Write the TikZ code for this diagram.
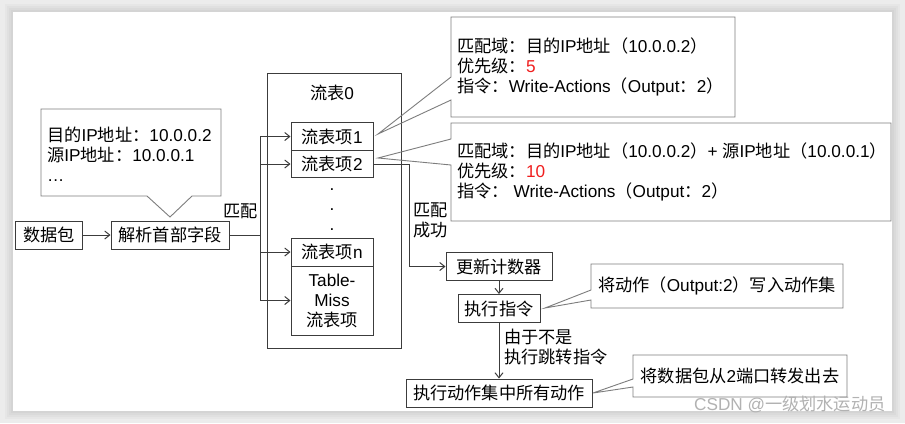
\documentclass[tikz,border=0pt]{standalone}
\usepackage{fontspec}
\setmainfont{Liberation Sans}
\newfontfamily\cjk{Noto Sans CJK SC}
% switch to the CJK face for ideographs and full-width signs
\XeTeXinterchartokenstate=1
\newXeTeXintercharclass\cjkcls
\count255="3000
\loop\ifnum\count255<"3040 \XeTeXcharclass\count255=\cjkcls \advance\count255 by 1 \repeat
\count255="4E00
\loop\ifnum\count255<"A000 \XeTeXcharclass\count255=\cjkcls \advance\count255 by 1 \repeat
\count255="FF00
\loop\ifnum\count255<"FFF0 \XeTeXcharclass\count255=\cjkcls \advance\count255 by 1 \repeat
\XeTeXinterchartoks 0 \cjkcls={\cjk}
\XeTeXinterchartoks 4095 \cjkcls={\cjk}
\XeTeXinterchartoks \cjkcls 0={\rmfamily}
\XeTeXinterchartoks \cjkcls 4095={\rmfamily}
\XeTeXinterchartoks 4095 0={\rmfamily}
\usepackage{tikz}
\usetikzlibrary{arrows.meta,positioning}
\definecolor{frame}{RGB}{60,60,60}
\definecolor{pale}{RGB}{125,125,125}
\definecolor{hot}{RGB}{240,30,30}
\definecolor{paper}{RGB}{236,236,236}
\tikzset{
  >={Straight Barb[length=5bp,width=8bp]},
  box/.style={draw=frame,line width=1bp,minimum width=#1,minimum height=28bp,
    inner sep=0pt,align=center},
  box/.default=82bp,
  tag/.style={align=left,inner sep=0pt},
  flow/.style={->,line width=1bp,draw=frame},
  wire/.style={line width=1bp,draw=frame},
  bubble/.style={draw=pale,line width=0.9bp},
}

\begin{document}
\begin{tikzpicture}[x=1bp,y=-1bp,font=\fontsize{17.2bp}{20bp}\selectfont]
  \useasboundingbox (0,0) rectangle (905,423);
  % card
  \fill[paper] (0,0) rectangle (905,423);
  \foreach \d in {8,6,4,2}
    \fill[black,opacity=0.025] (13-\d,12-\d) rectangle (892+\d,411+\d);
  \fill[white] (13,12) rectangle (892,411);

  % flow table
  \node[draw=frame,line width=1bp,minimum width=134bp,minimum height=275bp] (tbl) at (334,210.5) {};
  \node (tname) at (332,93) {流表0};
  \node[box] (e1) at (332,136.5) {流表项1};
  \node[box,minimum height=26.5bp] (e2) at (332,164) {流表项2};
  \foreach \y [count=\i] in {190,210,230}
    \node[inner sep=0pt] (dot\i) at (332,\y) {.};
  \node[box] (en) at (332,252) {流表项n};
  \node[box,minimum height=69bp] (miss) at (332,300.5) {Table-\\Miss\\流表项};

  % packet path
  \node[box=66bp] (pkt) at (49,235) {数据包};
  \node[box=118bp] (parse) at (170,235) {解析首部字段};
  \draw[flow] (pkt) -- (parse);
  \coordinate (bus) at (260,235);
  \draw[wire] (parse.east) -- (bus);
  \foreach \n in {e1,e2,en,miss}
    \draw[flow] (bus) |- (\n.west);
  \node[tag,anchor=east] (match) at (258,211) {匹配};

  % actions
  \node[box=106bp] (upd) at (499,266.5) {更新计数器};
  \node[box] (exe) at (499,308.5) {执行指令};
  \node[box=186bp] (all) at (499,393) {执行动作集中所有动作};
  \draw[flow] (e2.east) -- ++(36,0) |- (upd.west);
  \node[tag,anchor=west] (ok) at (413,220) {匹配\\成功};
  \draw[flow] (upd) -- (exe);
  \draw[flow] (exe) -- (all);
  \node[tag,anchor=west] (why) at (504,347) {由于不是\\执行跳转指令};

  % callouts
  \draw[bubble] (41,109) -- (221,109) -- (221,196) -- (192,196) -- (170,217) -- (147,196) -- (41,196) -- cycle;
  \node[tag,anchor=west] (hdr) at (47,154) {目的IP地址：10.0.0.2\\源IP地址：10.0.0.1\\…};
  \draw[bubble] (451,17) -- (735,17) -- (735,117) -- (451,117) -- (451,100) -- (378,134) -- (451,77) -- cycle;
  \node[tag,anchor=west] (rule1) at (457,67) {匹配域：目的IP地址（10.0.0.2）\\优先级：\textcolor{hot}{5}\\指令：Write-Actions（Output：2）};
  \draw[bubble] (451,123) -- (891,123) -- (891,221) -- (451,221) -- (451,165) -- (378,158) -- (451,139) -- cycle;
  \node[tag,anchor=west] (rule2) at (457,172) {匹配域：目的IP地址（10.0.0.2）+ 源IP地址（10.0.0.1）\\优先级：\textcolor{hot}{10}\\指令： Write-Actions（Output：2）};
  \draw[bubble] (591,264) -- (843,264) -- (843,308) -- (591,308) -- (591,300) -- (545,308) -- (591,290) -- cycle;
  \node (wset) at (717,286) {将动作（Output:2）写入动作集};
  \draw[bubble] (633,355) -- (847,355) -- (847,397) -- (633,397) -- (633,387) -- (593,393) -- (633,379) -- cycle;
  \node (fwd) at (740,376) {将数据包从2端口转发出去};

  \node[anchor=east,text=black!30] (mark) at (889,404) {CSDN @一级划水运动员};
\end{tikzpicture}
\end{document}
